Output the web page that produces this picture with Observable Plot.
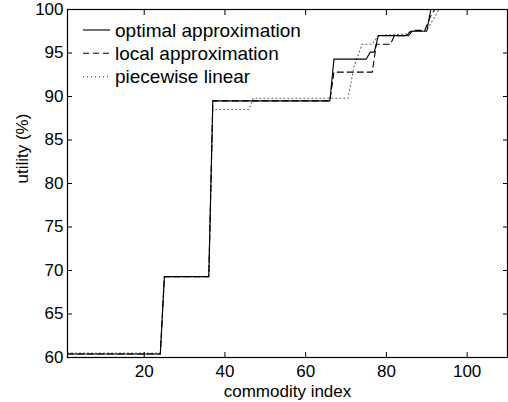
<!DOCTYPE html>
<html>
<head>
<meta charset="utf-8">
<script src="https://cdn.jsdelivr.net/npm/d3@7"></script>
<script src="https://cdn.jsdelivr.net/npm/@observablehq/plot@0.6"></script>
<style>
  html, body { margin: 0; padding: 0; background: #fff; }
  #chart { width: 508px; height: 402px; }
</style>
</head>
<body>
<div id="chart"></div>
<script>
// ---- data ----
const seriesNames = ["optimal approximation", "local approximation", "piecewise linear"];

const optimalX = [1, 24, 25, 36, 37, 66, 67, 75, 76, 77, 78, 85, 86, 90, 91, 110];
const optimalY = [60.4, 60.4, 69.3, 69.3, 89.5, 89.5, 94.3, 94.3, 95.1, 95.1, 97.0, 97.0, 97.5, 97.5, 100, 100];

const localX = [1, 24, 25, 36, 37, 66, 67, 76.5, 77.5, 81, 82, 85.5, 86.5, 89.5, 91, 92, 110];
const localY = [60.4, 60.4, 69.3, 69.3, 89.5, 89.5, 92.8, 92.8, 96.0, 96.0, 97.0, 97.0, 97.6, 97.6, 99.3, 100, 100];

const linearX = [1, 24, 25, 36, 37, 46, 47, 70.5, 72, 74, 76.5, 78, 85, 86, 90, 93, 110];
const linearY = [60.5, 60.5, 69.3, 69.3, 88.5, 88.5, 89.8, 89.8, 93.5, 96.0, 96.0, 97.0, 97.2, 97.5, 97.6, 100, 100];

const xTicks = [20, 40, 60, 80, 100];
const yTicks = [60, 65, 70, 75, 80, 85, 90, 95, 100];
const xLabel = "commodity index";
const yLabel = "utility (%)";

// ---- build tables ----
const toRows = (xs, ys, name) => xs.map((x, i) => ({series: name, x, y: ys[i]}));
const optimal = toRows(optimalX, optimalY, seriesNames[0]);
const local = toRows(localX, localY, seriesNames[1]);
const linear = toRows(linearX, linearY, seriesNames[2]);

const styles = [
  {stroke: "#000", dash: null, width: 1.1},
  {stroke: "#000", dash: "6,4", width: 1.1},
  {stroke: "#666", dash: "1,3", width: 1.1}
];

const FONT = "'Liberation Sans', Arial, Helvetica, sans-serif";

const chart = Plot.plot({
  width: 508,
  height: 402,
  marginLeft: 67,
  marginRight: 1,
  marginTop: 9,
  marginBottom: 45,
  style: {fontFamily: FONT, fontSize: "17px", color: "#000", background: "#fff", overflow: "visible"},
  x: {domain: [1, 110]},
  y: {domain: [60, 100]},
  marks: [
    Plot.line(linear, {x: "x", y: "y", stroke: styles[2].stroke, strokeWidth: styles[2].width, strokeDasharray: styles[2].dash}),
    Plot.line(local, {x: "x", y: "y", stroke: styles[1].stroke, strokeWidth: styles[1].width, strokeDasharray: styles[1].dash}),
    Plot.line(optimal, {x: "x", y: "y", stroke: styles[0].stroke, strokeWidth: styles[0].width}),
    Plot.axisX(xTicks, {anchor: "bottom", tickSize: -5, tickPadding: 12, label: null, fontSize: 17}),
    Plot.axisX(xTicks, {anchor: "top", tickSize: -5, tickFormat: () => "", label: null}),
    Plot.axisY(yTicks, {anchor: "left", tickSize: -5, tickPadding: 9, label: null, fontSize: 17}),
    Plot.axisY(yTicks, {anchor: "right", tickSize: -5, tickFormat: () => "", label: null}),
    Plot.frame({stroke: "#000", strokeWidth: 1.2}),
    Plot.text([xLabel], {text: d => d, frameAnchor: "bottom", dy: 27, lineAnchor: "top", fontSize: 17}),
    Plot.text([yLabel], {text: d => d, frameAnchor: "left", dx: -45, rotate: -90, fontSize: 17})
  ]
});

document.getElementById("chart").appendChild(chart);

// ---- legend inside the axes, top-left, no box ----
const svg = d3.select(chart);
const legend = svg.append("g")
  .attr("font-family", FONT)
  .attr("font-size", 19)
  .attr("text-anchor", "start");
seriesNames.forEach((name, i) => {
  const cy = 30 + i * 23.3;
  legend.append("line")
    .attr("x1", 83).attr("x2", 110).attr("y1", cy).attr("y2", cy)
    .attr("stroke", styles[i].stroke).attr("stroke-width", styles[i].width)
    .attr("stroke-dasharray", styles[i].dash);
  legend.append("text")
    .attr("x", 115).attr("y", cy).attr("dy", "0.35em")
    .attr("text-anchor", "start")
    .attr("fill", "#000").text(name);
});
</script>
</body>
</html>
